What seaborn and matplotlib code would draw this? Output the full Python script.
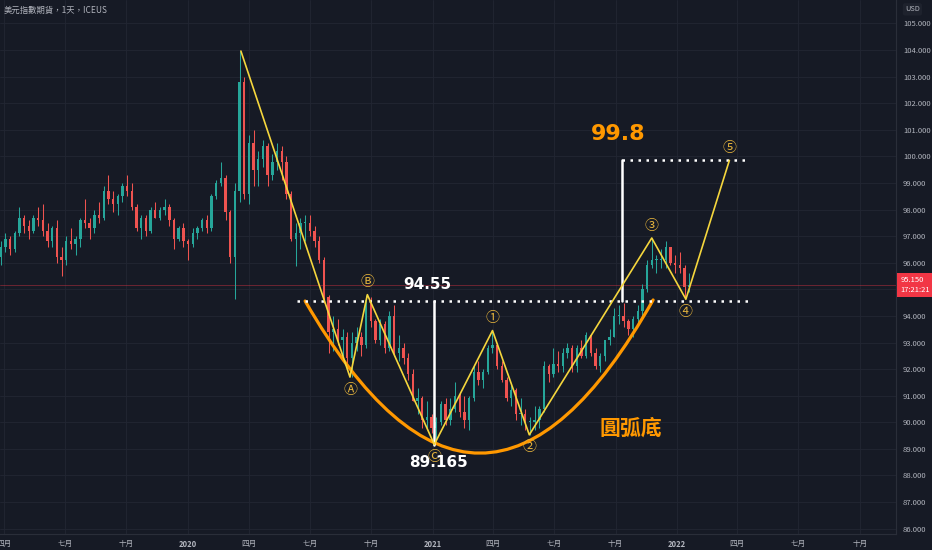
import matplotlib
matplotlib.use("Agg")
import numpy as np
import pandas as pd
import matplotlib.pyplot as plt
import matplotlib.dates as mdates
from matplotlib.path import Path
from matplotlib.patches import PathPatch
import seaborn as sns

# weekly candles of the DX futures (first week starts 2019-03-25)
week_start = "2019-03-25"
opens = [
    96.2, 96.6, 96.9, 96.5, 97.1, 97.7, 97.4, 97.2, 97.7, 97.6,
    97.2, 96.8, 97.3, 96.2, 96.1, 96.8, 96.7, 96.9, 97.6, 97.5,
    97.3, 97.8, 97.7, 98.7, 98.4, 98.2, 98.5, 98.9, 98.7, 98.1,
    97.3, 97.7, 97.2, 98.0, 97.7, 98.0, 98.1, 97.6, 96.9, 97.3,
    96.8, 96.7, 97.1, 97.3, 97.6, 97.3, 98.5, 99.0, 99.2, 97.9,
    96.2, 98.7, 102.8, 98.6, 100.5, 99.5, 99.9, 100.4, 99.3, 99.8,
    100.2, 99.8, 98.6, 96.9, 97.1, 97.5, 97.5, 97.2, 96.8, 96.1,
    94.7, 93.4, 93.5, 93.1, 93.2, 92.4, 93.0, 93.2, 92.9, 94.6,
    93.8, 93.1, 93.7, 92.8, 94.0, 92.6, 92.8, 92.4, 91.8, 90.8,
    90.9, 90.1, 90.2, 89.8, 90.0, 90.7, 90.1, 90.5, 91.0, 90.4,
    90.1, 90.9, 91.9, 91.6, 91.9, 92.8, 92.9, 92.1, 91.6, 90.9,
    91.2, 90.3, 90.3, 90.0, 90.0, 90.1, 90.5, 92.1, 91.8, 92.2,
    92.1, 92.6, 92.8, 92.1, 92.8, 92.5, 93.3, 92.6, 92.1, 92.5,
    93.1, 93.2, 94.0, 94.0, 93.8, 93.5, 93.9, 94.2, 95.0, 95.9,
    96.1, 96.1, 96.1, 96.6, 96.0, 95.9, 95.8, 95.1,
]
closes = [
    96.6, 96.9, 96.5, 97.1, 97.7, 97.4, 97.2, 97.7, 97.6, 97.2,
    96.8, 97.3, 96.2, 96.1, 96.8, 96.7, 96.9, 97.6, 97.5, 97.3,
    97.8, 97.7, 98.7, 98.4, 98.2, 98.5, 98.9, 98.7, 98.1, 97.3,
    97.7, 97.2, 98.0, 97.7, 98.0, 98.1, 97.6, 96.9, 97.3, 96.8,
    96.7, 97.1, 97.3, 97.6, 97.3, 98.5, 99.0, 99.2, 97.9, 96.2,
    98.7, 102.8, 98.6, 100.5, 99.5, 99.9, 100.4, 99.3, 99.8, 100.2,
    99.8, 98.6, 96.9, 97.1, 97.5, 97.5, 97.2, 96.8, 96.1, 94.7,
    93.4, 93.5, 93.1, 93.2, 92.4, 93.0, 93.2, 92.9, 94.6, 93.8,
    93.1, 93.7, 92.8, 94.0, 92.6, 92.8, 92.4, 91.8, 90.8, 90.9,
    90.1, 90.2, 89.8, 90.0, 90.7, 90.1, 90.5, 91.0, 90.4, 90.1,
    90.9, 91.9, 91.6, 91.9, 92.8, 92.9, 92.1, 91.6, 90.9, 91.2,
    90.3, 90.3, 90.0, 90.0, 90.1, 90.5, 92.1, 91.8, 92.2, 92.1,
    92.6, 92.8, 92.1, 92.8, 92.5, 93.3, 92.6, 92.1, 92.5, 93.1,
    93.2, 94.0, 94.0, 93.8, 93.5, 93.9, 94.2, 95.0, 95.9, 96.1,
    96.1, 96.1, 96.6, 96.0, 95.9, 95.8, 95.1, 95.15,
]
highs = [
    96.8, 97.1, 97.0, 97.2, 98.1, 97.8, 97.6, 97.8, 98.1, 98.2,
    97.5, 97.4, 97.6, 96.6, 97.0, 97.3, 97.0, 97.7, 98.4, 97.7,
    98.0, 98.3, 98.9, 99.3, 98.7, 98.6, 99.0, 99.3, 99.0, 98.2,
    97.8, 97.8, 98.1, 98.3, 98.1, 98.4, 98.2, 97.7, 97.4, 97.5,
    96.9, 97.3, 97.4, 97.7, 97.8, 98.6, 99.1, 99.8, 99.3, 98.0,
    99.0, 103.96, 103.0, 100.8, 101.0, 100.2, 100.6, 100.5, 100.1, 100.5,
    100.4, 100.0, 98.7, 97.5, 97.7, 97.8, 97.8, 97.4, 97.0, 96.2,
    94.8, 94.0, 93.9, 93.5, 93.4, 93.4, 93.6, 93.4, 94.8, 94.7,
    93.9, 93.9, 93.8, 94.2, 94.4, 93.3, 93.0, 92.6, 92.0, 91.3,
    91.0, 90.8, 90.3, 90.2, 90.8, 90.9, 90.9, 91.5, 91.1, 91.0,
    91.0, 92.1, 92.3, 92.0, 92.9, 93.45, 93.0, 92.3, 91.7, 91.4,
    91.3, 90.9, 90.5, 90.2, 90.6, 90.6, 92.3, 92.2, 92.8, 92.7,
    92.8, 93.0, 92.9, 92.9, 93.1, 93.4, 93.3, 92.8, 92.6, 93.1,
    93.5, 94.3, 94.4, 94.5, 93.9, 94.0, 94.4, 95.2, 96.1, 96.93,
    96.3, 96.5, 96.8, 96.6, 96.3, 96.4, 95.9, 95.6,
]
lows = [
    95.9, 96.4, 96.3, 96.4, 97.0, 97.1, 96.9, 97.1, 97.4, 97.0,
    96.6, 96.6, 96.0, 95.5, 95.9, 96.5, 96.3, 96.6, 97.3, 96.9,
    97.1, 97.5, 97.6, 98.2, 97.9, 97.8, 98.3, 98.5, 98.0, 97.2,
    96.9, 97.0, 97.1, 97.7, 97.6, 97.8, 97.4, 96.5, 96.8, 96.6,
    96.1, 96.6, 96.9, 97.2, 97.1, 97.2, 98.4, 98.9, 97.6, 96.0,
    94.65, 98.3, 98.4, 98.2, 98.9, 98.9, 99.6, 98.9, 99.1, 99.5,
    99.1, 98.4, 96.8, 95.86, 96.5, 96.8, 97.0, 96.6, 96.0, 94.5,
    92.6, 92.7, 92.9, 92.3, 92.2, 91.7, 92.7, 92.5, 92.8, 93.6,
    93.0, 92.9, 92.6, 92.7, 92.5, 92.3, 92.2, 91.6, 90.8, 90.3,
    89.8, 89.8, 89.6, 89.17, 89.9, 89.9, 89.9, 90.4, 90.2, 89.8,
    89.7, 90.8, 91.4, 91.3, 91.8, 92.6, 92.0, 91.5, 90.8, 90.6,
    90.1, 89.9, 89.7, 89.53, 89.7, 89.8, 90.4, 91.5, 91.7, 91.9,
    91.9, 92.4, 91.9, 91.9, 92.4, 92.4, 92.5, 92.0, 91.9, 92.3,
    92.9, 93.2, 93.7, 93.6, 93.3, 93.2, 93.7, 93.9, 94.9, 95.8,
    95.6, 95.8, 95.8, 95.9, 95.6, 95.6, 94.63, 94.9,
]

tick_dates = ["2019-04-01", "2019-07-01", "2019-10-01", "2020-01-01", "2020-04-01",
              "2020-07-01", "2020-10-01", "2021-01-01", "2021-04-01", "2021-07-01",
              "2021-10-01", "2022-01-01", "2022-04-01", "2022-07-01", "2022-10-01"]
tick_labels = ["四月", "七月", "十月", "2020", "四月", "七月", "十月", "2021",
               "四月", "七月", "十月", "2022", "四月", "七月", "十月"]
price_ticks = list(range(86, 106))

# elliott wave count
wave_dates = ["2020-03-20", "2020-08-30", "2020-09-25", "2021-01-03", "2021-03-31",
              "2021-05-25", "2021-11-24", "2022-01-14", "2022-03-20"]
wave_values = [103.96, 91.70, 94.80, 89.165, 93.45, 89.53, 96.93, 94.63, 99.85]
wave_labels = ["", "Ⓐ", "Ⓑ", "Ⓒ", "①", "②", "③", "④", "⑤"]
wave_side = [0, -1, 1, -1, 1, -1, 1, -1, 1]

neckline = 94.55
neck_dates = ["2020-06-12", "2022-04-17"]
bottom_value = 89.165
bottom_date = "2021-01-03"
target_value = 99.85
target_dates = ["2021-10-10", "2022-04-17"]
arc_dates = ["2020-06-24", "2021-03-14", "2021-11-26"]   # start, control, end
arc_values = [94.56, 83.1, 94.6]
last_price = 95.15
last_time = "17:21:21"

BG = "#161a25"
GRID = "#222633"
TXT = "#b2b5be"
UP = "#26a69a"
DOWN = "#ef5350"
ORANGE = "#ff9800"
WAVE = "#f5d63d"
LABEL = "#e3b23c"

sns.set_theme(style="dark")
plt.rcParams["font.family"] = ["Liberation Sans Narrow", "Noto Sans CJK TC", "DejaVu Sans"]
CJK = ["Noto Sans CJK TC", "DejaVu Sans"]

fig = plt.figure(figsize=(9.32, 5.5), dpi=100, facecolor=BG)
ax = fig.add_axes([0, 16 / 550, 896 / 932, 534 / 550])
ax.set_facecolor(BG)

d = lambda s: mdates.date2num(pd.Timestamp(s))
weeks = pd.date_range(week_start, periods=len(closes), freq="W-MON")
xs = mdates.date2num(weeks) + 2
o = np.array(opens); c = np.array(closes)
cols = [UP if cc >= oo else DOWN for oo, cc in zip(o, c)]
ax.vlines(xs, lows, highs, colors=cols, lw=0.75, zorder=2)
ax.bar(xs, np.maximum(np.abs(c - o), 0.04), bottom=np.minimum(o, c), width=3.6,
       color=cols, linewidth=0, zorder=3)

ax.axhline(last_price, color="#f23645", lw=0.6, alpha=0.45, zorder=1)

# rounding bottom arc
ax_pts = [(d(a), v) for a, v in zip(arc_dates, arc_values)]
arc = PathPatch(Path(ax_pts, [Path.MOVETO, Path.CURVE3, Path.CURVE3]),
                fill=False, edgecolor=ORANGE, lw=2.3, zorder=4, capstyle="round")
ax.add_patch(arc)

# neckline and target
ax.plot([d(neck_dates[0]), d(neck_dates[1])], [neckline, neckline], color="white",
        lw=1.8, ls=(0, (1, 2.2)), zorder=5)
ax.plot([d(target_dates[0]), d(target_dates[1])], [target_value, target_value], color="white",
        lw=1.8, ls=(0, (1, 2.2)), zorder=5)
ax.plot([d(bottom_date)] * 2, [bottom_value, neckline], color="white", lw=1.8, zorder=5)
ax.plot([d(target_dates[0])] * 2, [neckline, target_value], color="white", lw=1.8, zorder=5)

wx = [d(s) for s in wave_dates]
sns.lineplot(x=wx, y=wave_values, sort=False, color=WAVE, lw=1.2, ax=ax, zorder=6)
for x, y, lab, side in zip(wx, wave_values, wave_labels, wave_side):
    if lab:
        ax.annotate(lab, (x, y), xytext=(0, 9 * side), textcoords="offset points",
                    ha="center", va="center", color=LABEL, fontsize=10, family=CJK, zorder=7)

ax.text(d("2020-12-23"), 95.2, f"{neckline:.2f}", color="white", fontsize=11,
        fontweight="bold", ha="center", va="center", family="DejaVu Sans")
ax.text(d("2021-01-10"), 88.5, f"{bottom_value:.3f}", color="white", fontsize=11,
        fontweight="bold", ha="center", va="center", family="DejaVu Sans", zorder=8)
ax.text(d("2021-10-05"), 100.84, "99.8", color=ORANGE, fontsize=16,
        fontweight="bold", ha="center", va="center", family="DejaVu Sans")
ax.text(d("2021-10-23"), 89.79, "圓弧底", color=ORANGE, fontsize=15,
        fontweight="bold", ha="center", va="center", family=CJK)

# axes
ax.set_xlim(d("2019-03-26"), d("2022-11-24"))
ax.set_ylim(85.8, 105.88)
ax.set_xticks([d(s) for s in tick_dates])
ax.set_xticklabels(tick_labels)
for t, lab in zip(ax.get_xticklabels(), tick_labels):
    if lab.isdigit():
        t.set_fontweight("bold")
ax.yaxis.tick_right()
ax.set_yticks(price_ticks)
# the 95 label sits under the last-price box
ax.set_yticklabels(["" if v == 95 else f"{v:.3f}" for v in price_ticks])
ax.tick_params(axis="both", length=0, colors=TXT, labelsize=5.5)
ax.tick_params(axis="y", pad=5)
ax.tick_params(axis="x", pad=4)
ax.grid(True, color=GRID, lw=0.6)
for s in ["top", "left"]:
    ax.spines[s].set_visible(False)
for s in ["right", "bottom"]:
    ax.spines[s].set_color("#2a2e39")
    ax.spines[s].set_linewidth(0.8)

ax.annotate(f"{last_price:.3f}\n{last_time}", (1.0, last_price),
            xycoords=("axes fraction", "data"), xytext=(3, 0), textcoords="offset points",
            ha="left", va="center", fontsize=5.5, color="white", linespacing=1.3,
            bbox=dict(boxstyle="square,pad=0.4", fc="#f23645", ec="none"), zorder=8,
            annotation_clip=False)
fig.text(0.979, 0.983, "USD", ha="center", va="center", fontsize=5.3, color=TXT,
         bbox=dict(boxstyle="round,pad=0.3", fc="#1e222d", ec="none"))
fig.text(0.004, 0.981, "美元指數期貨，1天，ICEUS", ha="left", va="center",
         fontsize=6, color=TXT, family=CJK)

fig.savefig("out.png", dpi=100, facecolor=BG)
